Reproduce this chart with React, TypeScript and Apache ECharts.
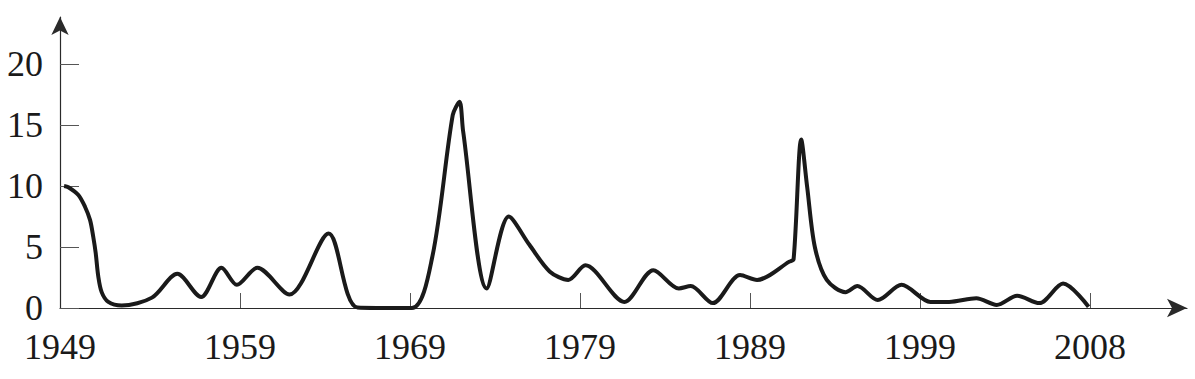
import React, { useEffect, useRef } from "react";
import * as echarts from "echarts";

// x position in years after 1949 (tick spacing: 10 years), y value
const positions = [-0.35, -0.1, 0.49, 0.88, 1.18, 1.37, 1.51, 1.66, 1.86, 2.25, 3.04, 4.82, 6.31, 7.71, 8.91, 9.81, 11.01, 12.91, 15.21, 16.91, 20.11, 21.31, 22.51, 22.91, 23.12, 24.51, 25.81, 27.01, 28.21, 29.31, 30.31, 32.61, 34.31, 35.81, 36.51, 37.81, 39.41, 40.41, 42.31, 42.56, 43.01, 43.36, 43.81, 44.51, 45.61, 46.31, 47.51, 48.91, 50.61, 51.71, 53.31, 54.51, 55.71, 57.01, 58.41, 59.91];
const values = [10.0, 9.9, 9.26, 8.3, 7.2, 5.8, 4.5, 2.6, 1.3, 0.5, 0.2, 0.85, 2.8, 0.9, 3.3, 1.9, 3.3, 1.1, 6.1, 0.05, 0, 4.2, 15.8, 16.9, 14.5, 1.6, 7.5, 5.2, 3.0, 2.3, 3.5, 0.5, 3.1, 1.6, 1.8, 0.4, 2.7, 2.3, 3.8, 4.0, 13.8, 9.9, 5.0, 2.3, 1.3, 1.8, 0.65, 1.9, 0.5, 0.5, 0.8, 0.25, 1.0, 0.4, 2.0, 0.1];
const X_MIN = -0.59;
const X_MAX = 65.7;
const xTickValues = [10, 20, 30, 40, 50, 60];
const xLabelValues = [X_MIN, 10, 20, 30, 40, 50, 60];
const xTickLabels = ["1949", "1959", "1969", "1979", "1989", "1999", "2008"];
const yTickValues = [0, 5, 10, 15, 20];

export default function App() {
  const ref = useRef<HTMLDivElement>(null);
  useEffect(() => {
    if (!ref.current) return;
    const chart = echarts.init(ref.current, null, { renderer: "svg" });
    const font = "'Liberation Serif', 'Times New Roman', serif";
    chart.setOption({
      animation: false,
      backgroundColor: "#ffffff",
      grid: { left: 60, right: 8, top: 17, bottom: 71, containLabel: false },
      xAxis: {
        type: "value",
        min: X_MIN,
        max: X_MAX,
        splitLine: { show: false },
        axisLine: {
          show: true,
          onZero: false,
          lineStyle: { color: "#2a2a2a", width: 1.2 },
          symbol: ["none", "arrow"],
          symbolSize: [14, 20],
        },
        axisTick: {
          show: true,
          inside: true,
          length: 15,
          customValues: xTickValues,
          lineStyle: { color: "#555", width: 1 },
        },
        axisLabel: {
          show: true,
          customValues: xLabelValues,
          margin: 21,
          fontFamily: font,
          fontSize: 36,
          color: "#1a1a1a",
          formatter: (v: number) => {
            let best = 0;
            for (let i = 0; i < xLabelValues.length; i++) {
              if (Math.abs(xLabelValues[i] - v) < Math.abs(xLabelValues[best] - v)) best = i;
            }
            return xTickLabels[best];
          },
        },
      },
      yAxis: {
        type: "value",
        min: 0,
        max: 23.85,
        splitLine: { show: false },
        axisLine: {
          show: true,
          onZero: false,
          lineStyle: { color: "#2a2a2a", width: 1.2 },
          symbol: ["none", "arrow"],
          symbolSize: [13, 18],
        },
        axisTick: {
          show: true,
          inside: true,
          length: 19,
          customValues: yTickValues,
          lineStyle: { color: "#555", width: 1 },
        },
        axisLabel: {
          show: true,
          customValues: yTickValues,
          margin: 17,
          fontFamily: font,
          fontSize: 36,
          color: "#1a1a1a",
        },
      },
      series: [
        {
          type: "line",
          data: positions.map((p, i) => [p, values[i]]),
          smooth: 0.3,
          showSymbol: false,
          symbol: "none",
          lineStyle: { color: "#1a1a1a", width: 4 },
        },
      ],
    });
    return () => chart.dispose();
  }, []);
  return (
    <div
      ref={ref}
      style={{ position: "fixed", left: 0, top: 0, width: 1195, height: 379 }}
    />
  );
}
